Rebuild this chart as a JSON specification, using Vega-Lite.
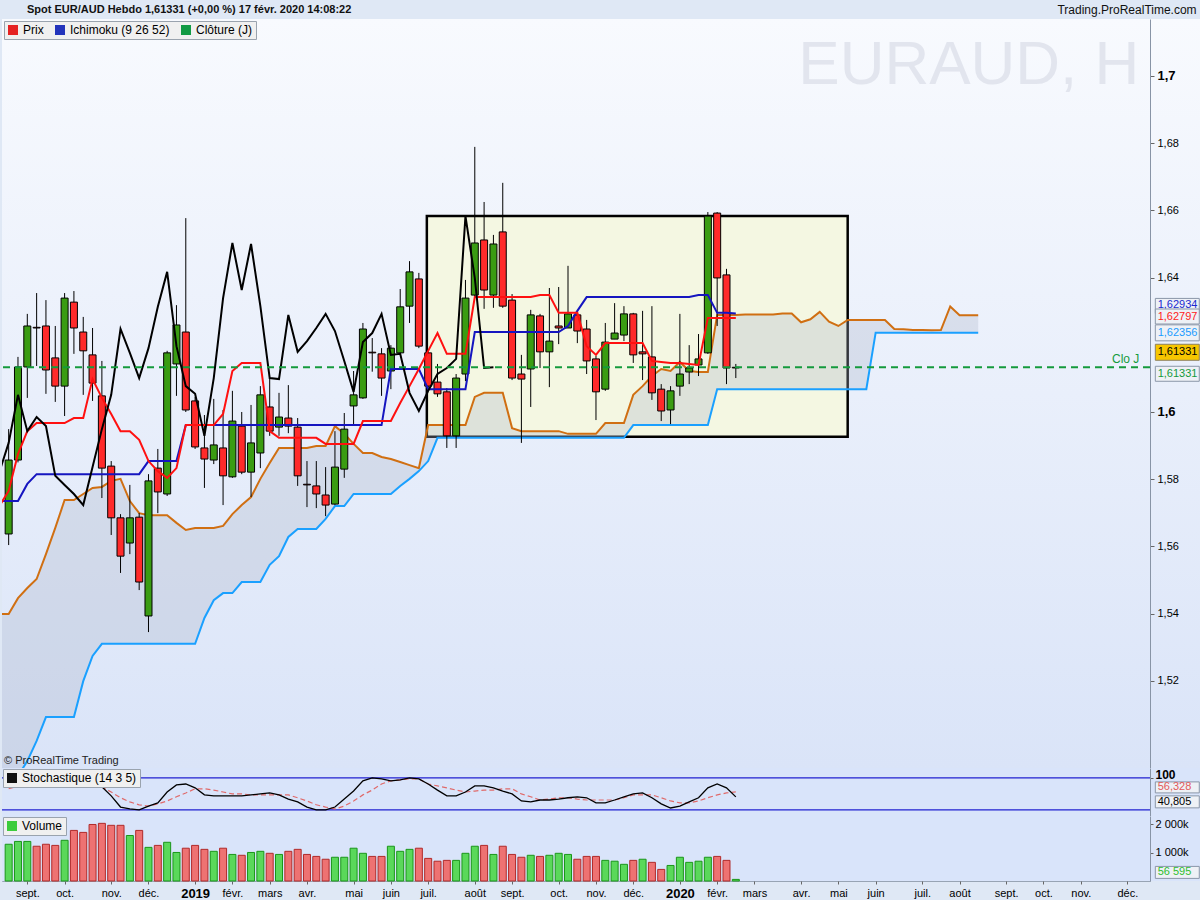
{
"$schema": "https://vega.github.io/schema/vega-lite/v6.json",
"padding": {"left": 0, "right": 0, "top": 3, "bottom": 0},
"background": "#dfe8f5",
"spacing": 0,
"bounds": "flush",
"resolve": {"scale": {"color": "independent"}, "legend": {"color": "independent"}},
"config": {
  "font": "Liberation Sans",
  "view": {"stroke": "#98a4b4", "strokeWidth": 1},
  "scale": {"continuousPadding": 0},
  "axis": {"grid": false, "labelFont": "Liberation Sans", "labelFontSize": 11, "labelColor": "#000000", "tickColor": "#666666", "domainColor": "#8894a6", "tickSize": 4},
  "legend": {"title": null, "orient": "top-left", "direction": "horizontal", "symbolType": "square", "symbolSize": 100, "symbolOpacity": 1, "symbolStrokeWidth": 0, "labelFontSize": 12, "labelFont": "Liberation Sans", "labelColor": "#000000", "fillColor": "#f0f0f0", "strokeColor": "#9aa3ae", "padding": 3, "offset": 2, "columnPadding": 10, "labelOffset": 4}
},
"datasets": {
"candles": [
{"d":"2018-08-20","o":1.5637,"h":1.5949,"l":1.5604,"c":1.5857,"v":1300000,"k":75,"sd":66},
{"d":"2018-08-27","o":1.5857,"h":1.6164,"l":1.5850,"c":1.6134,"v":1400000,"k":91,"sd":75},
{"d":"2018-09-03","o":1.6134,"h":1.6292,"l":1.6042,"c":1.6256,"v":1400000,"k":100,"sd":84},
{"d":"2018-09-10","o":1.6252,"h":1.6354,"l":1.6137,"c":1.6250,"v":1230000,"k":100,"sd":94},
{"d":"2018-09-17","o":1.6256,"h":1.6333,"l":1.6054,"c":1.6125,"v":1300000,"k":100,"sd":98},
{"d":"2018-09-24","o":1.6161,"h":1.6256,"l":1.6030,"c":1.6077,"v":1260000,"k":94,"sd":98},
{"d":"2018-10-01","o":1.6077,"h":1.6354,"l":1.5988,"c":1.6339,"v":1440000,"k":100,"sd":98},
{"d":"2018-10-08","o":1.6327,"h":1.6360,"l":1.6173,"c":1.6250,"v":1790000,"k":100,"sd":98},
{"d":"2018-10-15","o":1.6238,"h":1.6283,"l":1.6051,"c":1.6182,"v":1720000,"k":97,"sd":98},
{"d":"2018-10-22","o":1.6170,"h":1.6250,"l":1.6033,"c":1.6086,"v":2000000,"k":91,"sd":91},
{"d":"2018-10-29","o":1.6048,"h":1.6152,"l":1.5744,"c":1.5833,"v":2040000,"k":72,"sd":72},
{"d":"2018-11-05","o":1.5839,"h":1.5854,"l":1.5634,"c":1.5685,"v":1970000,"k":44,"sd":56},
{"d":"2018-11-12","o":1.5685,"h":1.5696,"l":1.5521,"c":1.5571,"v":1970000,"k":9,"sd":38},
{"d":"2018-11-19","o":1.5610,"h":1.5783,"l":1.5577,"c":1.5685,"v":1610000,"k":3,"sd":25},
{"d":"2018-11-26","o":1.5687,"h":1.5699,"l":1.5470,"c":1.5494,"v":1790000,"k":0,"sd":16},
{"d":"2018-12-03","o":1.5393,"h":1.5815,"l":1.5345,"c":1.5795,"v":1190000,"k":12,"sd":12},
{"d":"2018-12-10","o":1.5833,"h":1.5890,"l":1.5699,"c":1.5762,"v":1260000,"k":22,"sd":19},
{"d":"2018-12-17","o":1.5756,"h":1.6182,"l":1.5750,"c":1.6176,"v":1370000,"k":56,"sd":28},
{"d":"2018-12-24","o":1.6143,"h":1.6318,"l":1.6048,"c":1.6259,"v":1010000,"k":78,"sd":41},
{"d":"2018-12-31","o":1.6238,"h":1.6577,"l":1.6000,"c":1.6006,"v":1160000,"k":81,"sd":53},
{"d":"2019-01-07","o":1.6033,"h":1.6045,"l":1.5890,"c":1.5896,"v":1260000,"k":69,"sd":66},
{"d":"2019-01-14","o":1.5893,"h":1.5991,"l":1.5774,"c":1.5860,"v":1120000,"k":47,"sd":66},
{"d":"2019-01-21","o":1.5857,"h":1.6039,"l":1.5845,"c":1.5902,"v":1050000,"k":44,"sd":62},
{"d":"2019-01-28","o":1.5893,"h":1.6006,"l":1.5723,"c":1.5810,"v":1160000,"k":44,"sd":56},
{"d":"2019-02-04","o":1.5807,"h":1.6063,"l":1.5804,"c":1.5973,"v":940000,"k":44,"sd":50},
{"d":"2019-02-11","o":1.5958,"h":1.6000,"l":1.5815,"c":1.5821,"v":910000,"k":44,"sd":50},
{"d":"2019-02-18","o":1.5821,"h":1.6021,"l":1.5747,"c":1.5908,"v":1010000,"k":47,"sd":47},
{"d":"2019-02-25","o":1.5878,"h":1.6077,"l":1.5833,"c":1.6051,"v":1050000,"k":50,"sd":47},
{"d":"2019-03-04","o":1.6015,"h":1.6101,"l":1.5929,"c":1.5943,"v":980000,"k":53,"sd":47},
{"d":"2019-03-11","o":1.5955,"h":1.6057,"l":1.5929,"c":1.5985,"v":940000,"k":47,"sd":47},
{"d":"2019-03-18","o":1.5982,"h":1.6080,"l":1.5937,"c":1.5958,"v":1050000,"k":34,"sd":47},
{"d":"2019-03-25","o":1.5955,"h":1.5982,"l":1.5780,"c":1.5810,"v":1120000,"k":25,"sd":38},
{"d":"2019-04-01","o":1.5785,"h":1.5854,"l":1.5717,"c":1.5783,"v":940000,"k":9,"sd":28},
{"d":"2019-04-08","o":1.5780,"h":1.5854,"l":1.5714,"c":1.5756,"v":870000,"k":0,"sd":16},
{"d":"2019-04-15","o":1.5753,"h":1.5836,"l":1.5690,"c":1.5723,"v":770000,"k":0,"sd":9},
{"d":"2019-04-22","o":1.5726,"h":1.5943,"l":1.5723,"c":1.5836,"v":840000,"k":9,"sd":3},
{"d":"2019-04-29","o":1.5830,"h":1.5997,"l":1.5804,"c":1.5949,"v":840000,"k":34,"sd":12},
{"d":"2019-05-06","o":1.6018,"h":1.6122,"l":1.5964,"c":1.6051,"v":1160000,"k":59,"sd":28},
{"d":"2019-05-13","o":1.6042,"h":1.6265,"l":1.6039,"c":1.6247,"v":980000,"k":91,"sd":47},
{"d":"2019-05-20","o":1.6178,"h":1.6220,"l":1.6120,"c":1.6176,"v":870000,"k":100,"sd":62},
{"d":"2019-05-27","o":1.6173,"h":1.6190,"l":1.6048,"c":1.6101,"v":870000,"k":97,"sd":81},
{"d":"2019-06-03","o":1.6122,"h":1.6199,"l":1.6068,"c":1.6190,"v":1230000,"k":91,"sd":91},
{"d":"2019-06-10","o":1.6176,"h":1.6366,"l":1.6173,"c":1.6313,"v":1050000,"k":94,"sd":94},
{"d":"2019-06-17","o":1.6315,"h":1.6449,"l":1.6265,"c":1.6417,"v":1120000,"k":100,"sd":97},
{"d":"2019-06-24","o":1.6396,"h":1.6414,"l":1.6190,"c":1.6196,"v":1160000,"k":97,"sd":97},
{"d":"2019-07-01","o":1.6176,"h":1.6182,"l":1.6066,"c":1.6077,"v":800000,"k":81,"sd":81},
{"d":"2019-07-08","o":1.6089,"h":1.6143,"l":1.6045,"c":1.6054,"v":700000,"k":62,"sd":75},
{"d":"2019-07-15","o":1.6060,"h":1.6071,"l":1.5893,"c":1.5929,"v":730000,"k":44,"sd":69},
{"d":"2019-07-22","o":1.5929,"h":1.6113,"l":1.5893,"c":1.6101,"v":730000,"k":44,"sd":62},
{"d":"2019-07-29","o":1.6113,"h":1.6393,"l":1.6092,"c":1.6339,"v":980000,"k":56,"sd":56},
{"d":"2019-08-05","o":1.6348,"h":1.6789,"l":1.6345,"c":1.6503,"v":1230000,"k":75,"sd":59},
{"d":"2019-08-12","o":1.6512,"h":1.6625,"l":1.6307,"c":1.6363,"v":1260000,"k":75,"sd":62},
{"d":"2019-08-19","o":1.6348,"h":1.6527,"l":1.6310,"c":1.6500,"v":940000,"k":69,"sd":62},
{"d":"2019-08-26","o":1.6536,"h":1.6682,"l":1.6310,"c":1.6315,"v":1230000,"k":59,"sd":66},
{"d":"2019-09-02","o":1.6333,"h":1.6351,"l":1.6095,"c":1.6101,"v":940000,"k":50,"sd":66},
{"d":"2019-09-09","o":1.6113,"h":1.6170,"l":1.5908,"c":1.6098,"v":840000,"k":28,"sd":50},
{"d":"2019-09-16","o":1.6128,"h":1.6304,"l":1.6015,"c":1.6289,"v":910000,"k":25,"sd":41},
{"d":"2019-09-23","o":1.6286,"h":1.6292,"l":1.6131,"c":1.6179,"v":870000,"k":31,"sd":31},
{"d":"2019-09-30","o":1.6179,"h":1.6369,"l":1.6074,"c":1.6211,"v":910000,"k":31,"sd":34},
{"d":"2019-10-07","o":1.6256,"h":1.6372,"l":1.6202,"c":1.6250,"v":980000,"k":34,"sd":38},
{"d":"2019-10-14","o":1.6250,"h":1.6435,"l":1.6250,"c":1.6292,"v":940000,"k":38,"sd":38},
{"d":"2019-10-21","o":1.6289,"h":1.6295,"l":1.6205,"c":1.6241,"v":770000,"k":41,"sd":34},
{"d":"2019-10-28","o":1.6247,"h":1.6274,"l":1.6113,"c":1.6152,"v":870000,"k":38,"sd":31},
{"d":"2019-11-04","o":1.6158,"h":1.6167,"l":1.5976,"c":1.6060,"v":870000,"k":22,"sd":31},
{"d":"2019-11-11","o":1.6068,"h":1.6265,"l":1.6063,"c":1.6208,"v":730000,"k":22,"sd":31},
{"d":"2019-11-18","o":1.6217,"h":1.6324,"l":1.6217,"c":1.6235,"v":700000,"k":31,"sd":31},
{"d":"2019-11-25","o":1.6229,"h":1.6315,"l":1.6211,"c":1.6292,"v":590000,"k":41,"sd":38},
{"d":"2019-12-02","o":1.6292,"h":1.6295,"l":1.6146,"c":1.6170,"v":730000,"k":50,"sd":47},
{"d":"2019-12-09","o":1.6179,"h":1.6301,"l":1.6095,"c":1.6173,"v":770000,"k":53,"sd":47},
{"d":"2019-12-16","o":1.6164,"h":1.6315,"l":1.6036,"c":1.6057,"v":660000,"k":38,"sd":47},
{"d":"2019-12-23","o":1.6068,"h":1.6083,"l":1.5973,"c":1.6003,"v":410000,"k":19,"sd":38},
{"d":"2019-12-30","o":1.6006,"h":1.6077,"l":1.5964,"c":1.6063,"v":550000,"k":6,"sd":28},
{"d":"2020-01-06","o":1.6077,"h":1.6292,"l":1.6048,"c":1.6113,"v":840000,"k":12,"sd":22},
{"d":"2020-01-13","o":1.6119,"h":1.6199,"l":1.6083,"c":1.6131,"v":660000,"k":25,"sd":22},
{"d":"2020-01-20","o":1.6140,"h":1.6232,"l":1.6107,"c":1.6158,"v":700000,"k":38,"sd":28},
{"d":"2020-01-27","o":1.6176,"h":1.6595,"l":1.6173,"c":1.6583,"v":840000,"k":69,"sd":38},
{"d":"2020-02-03","o":1.6592,"h":1.6595,"l":1.6256,"c":1.6399,"v":870000,"k":81,"sd":47},
{"d":"2020-02-10","o":1.6408,"h":1.6426,"l":1.6083,"c":1.6131,"v":730000,"k":69,"sd":53},
{"d":"2020-02-17","o":1.6131,"h":1.6143,"l":1.6101,"c":1.61331,"v":56595,"k":40.805,"sd":56.328}
],
"ichi": [
{"d":"2018-08-13","t":1.5720,"kj":1.5735,"a":1.5399,"b":1.4842,"ch":1.5821},
{"d":"2018-08-20","t":1.5765,"kj":1.5735,"a":1.5399,"b":1.4872,"ch":1.5908},
{"d":"2018-08-27","t":1.5875,"kj":1.5735,"a":1.5446,"b":1.4917,"ch":1.6051},
{"d":"2018-09-03","t":1.5943,"kj":1.5786,"a":1.5476,"b":1.4961,"ch":1.5943},
{"d":"2018-09-10","t":1.5967,"kj":1.5815,"a":1.5503,"b":1.5021,"ch":1.5985},
{"d":"2018-09-17","t":1.5967,"kj":1.5815,"a":1.5577,"b":1.5092,"ch":1.5958},
{"d":"2018-09-24","t":1.5967,"kj":1.5815,"a":1.5655,"b":1.5092,"ch":1.5810},
{"d":"2018-10-01","t":1.5967,"kj":1.5815,"a":1.5738,"b":1.5092,"ch":1.5783},
{"d":"2018-10-08","t":1.5982,"kj":1.5815,"a":1.5738,"b":1.5092,"ch":1.5756},
{"d":"2018-10-15","t":1.5982,"kj":1.5815,"a":1.5756,"b":1.5199,"ch":1.5723},
{"d":"2018-10-22","t":1.6098,"kj":1.5815,"a":1.5774,"b":1.5274,"ch":1.5836},
{"d":"2018-10-29","t":1.6042,"kj":1.5815,"a":1.5777,"b":1.5310,"ch":1.5949},
{"d":"2018-11-05","t":1.5994,"kj":1.5815,"a":1.5795,"b":1.5310,"ch":1.6051},
{"d":"2018-11-12","t":1.5943,"kj":1.5815,"a":1.5801,"b":1.5310,"ch":1.6247},
{"d":"2018-11-19","t":1.5943,"kj":1.5815,"a":1.5735,"b":1.5310,"ch":1.6176},
{"d":"2018-11-26","t":1.5917,"kj":1.5815,"a":1.5699,"b":1.5310,"ch":1.6101},
{"d":"2018-12-03","t":1.5854,"kj":1.5854,"a":1.5693,"b":1.5310,"ch":1.6190},
{"d":"2018-12-10","t":1.5824,"kj":1.5854,"a":1.5693,"b":1.5310,"ch":1.6313},
{"d":"2018-12-17","t":1.5804,"kj":1.5854,"a":1.5693,"b":1.5310,"ch":1.6417},
{"d":"2018-12-24","t":1.5833,"kj":1.5854,"a":1.5670,"b":1.5310,"ch":1.6196},
{"d":"2018-12-31","t":1.5961,"kj":1.5961,"a":1.5649,"b":1.5310,"ch":1.6077},
{"d":"2019-01-07","t":1.5961,"kj":1.5961,"a":1.5655,"b":1.5310,"ch":1.6054},
{"d":"2019-01-14","t":1.5961,"kj":1.5961,"a":1.5655,"b":1.5387,"ch":1.5929},
{"d":"2019-01-21","t":1.5961,"kj":1.5961,"a":1.5655,"b":1.5440,"ch":1.6101},
{"d":"2019-01-28","t":1.5994,"kj":1.5961,"a":1.5661,"b":1.5461,"ch":1.6339},
{"d":"2019-02-04","t":1.6122,"kj":1.5961,"a":1.5696,"b":1.5461,"ch":1.6503},
{"d":"2019-02-11","t":1.6146,"kj":1.5961,"a":1.5723,"b":1.5494,"ch":1.6363},
{"d":"2019-02-18","t":1.6146,"kj":1.5961,"a":1.5747,"b":1.5494,"ch":1.6500},
{"d":"2019-02-25","t":1.6146,"kj":1.5961,"a":1.5801,"b":1.5494,"ch":1.6315},
{"d":"2019-03-04","t":1.5943,"kj":1.5961,"a":1.5848,"b":1.5545,"ch":1.6101},
{"d":"2019-03-11","t":1.5923,"kj":1.5961,"a":1.5893,"b":1.5571,"ch":1.6098},
{"d":"2019-03-18","t":1.5923,"kj":1.5961,"a":1.5893,"b":1.5628,"ch":1.6289},
{"d":"2019-03-25","t":1.5923,"kj":1.5961,"a":1.5893,"b":1.5652,"ch":1.6179},
{"d":"2019-04-01","t":1.5923,"kj":1.5961,"a":1.5893,"b":1.5652,"ch":1.6211},
{"d":"2019-04-08","t":1.5923,"kj":1.5961,"a":1.5899,"b":1.5652,"ch":1.6250},
{"d":"2019-04-15","t":1.5905,"kj":1.5961,"a":1.5899,"b":1.5682,"ch":1.6292},
{"d":"2019-04-22","t":1.5905,"kj":1.5961,"a":1.5958,"b":1.5720,"ch":1.6241},
{"d":"2019-04-29","t":1.5905,"kj":1.5961,"a":1.5935,"b":1.5720,"ch":1.6152},
{"d":"2019-05-06","t":1.5905,"kj":1.5961,"a":1.5905,"b":1.5756,"ch":1.6060},
{"d":"2019-05-13","t":1.5973,"kj":1.5961,"a":1.5878,"b":1.5756,"ch":1.6208},
{"d":"2019-05-20","t":1.5973,"kj":1.5961,"a":1.5878,"b":1.5756,"ch":1.6235},
{"d":"2019-05-27","t":1.5973,"kj":1.5961,"a":1.5866,"b":1.5756,"ch":1.6292},
{"d":"2019-06-03","t":1.5973,"kj":1.6128,"a":1.5860,"b":1.5756,"ch":1.6170},
{"d":"2019-06-10","t":1.6027,"kj":1.6128,"a":1.5851,"b":1.5780,"ch":1.6173},
{"d":"2019-06-17","t":1.6077,"kj":1.6128,"a":1.5842,"b":1.5801,"ch":1.6057},
{"d":"2019-06-24","t":1.6128,"kj":1.6128,"a":1.5833,"b":1.5824,"ch":1.6003},
{"d":"2019-07-01","t":1.6182,"kj":1.6068,"a":1.5961,"b":1.5854,"ch":1.6063},
{"d":"2019-07-08","t":1.6235,"kj":1.6068,"a":1.5961,"b":1.5923,"ch":1.6113},
{"d":"2019-07-15","t":1.6173,"kj":1.6068,"a":1.5961,"b":1.5923,"ch":1.6131},
{"d":"2019-07-22","t":1.6173,"kj":1.6068,"a":1.5961,"b":1.5923,"ch":1.6158},
{"d":"2019-07-29","t":1.6173,"kj":1.6068,"a":1.5961,"b":1.5923,"ch":1.6583},
{"d":"2019-08-05","t":1.6342,"kj":1.6238,"a":1.6045,"b":1.5923,"ch":1.6399},
{"d":"2019-08-12","t":1.6342,"kj":1.6238,"a":1.6057,"b":1.5923,"ch":1.6131},
{"d":"2019-08-19","t":1.6342,"kj":1.6238,"a":1.6057,"b":1.5923,"ch":1.61331},
{"d":"2019-08-26","t":1.6342,"kj":1.6238,"a":1.6057,"b":1.5923},
{"d":"2019-09-02","t":1.6342,"kj":1.6238,"a":1.5952,"b":1.5923},
{"d":"2019-09-09","t":1.6342,"kj":1.6238,"a":1.5943,"b":1.5923},
{"d":"2019-09-16","t":1.6342,"kj":1.6238,"a":1.5943,"b":1.5923},
{"d":"2019-09-23","t":1.6348,"kj":1.6238,"a":1.5943,"b":1.5923},
{"d":"2019-09-30","t":1.6348,"kj":1.6238,"a":1.5943,"b":1.5923},
{"d":"2019-10-07","t":1.6295,"kj":1.6238,"a":1.5943,"b":1.5923},
{"d":"2019-10-14","t":1.6295,"kj":1.6256,"a":1.5935,"b":1.5923},
{"d":"2019-10-21","t":1.6295,"kj":1.6301,"a":1.5935,"b":1.5923},
{"d":"2019-10-28","t":1.6196,"kj":1.6342,"a":1.5935,"b":1.5923},
{"d":"2019-11-04","t":1.6170,"kj":1.6342,"a":1.5935,"b":1.5923},
{"d":"2019-11-11","t":1.6205,"kj":1.6342,"a":1.5967,"b":1.5923},
{"d":"2019-11-18","t":1.6205,"kj":1.6342,"a":1.5967,"b":1.5923},
{"d":"2019-11-25","t":1.6205,"kj":1.6342,"a":1.5967,"b":1.5923},
{"d":"2019-12-02","t":1.6205,"kj":1.6342,"a":1.6051,"b":1.5961},
{"d":"2019-12-09","t":1.6205,"kj":1.6342,"a":1.6077,"b":1.5961},
{"d":"2019-12-16","t":1.6152,"kj":1.6342,"a":1.6107,"b":1.5961},
{"d":"2019-12-23","t":1.6149,"kj":1.6342,"a":1.6128,"b":1.5961},
{"d":"2019-12-30","t":1.6146,"kj":1.6342,"a":1.6122,"b":1.5961},
{"d":"2020-01-06","t":1.6146,"kj":1.6342,"a":1.6149,"b":1.5961},
{"d":"2020-01-13","t":1.6143,"kj":1.6342,"a":1.6122,"b":1.5961},
{"d":"2020-01-20","t":1.6140,"kj":1.6348,"a":1.6119,"b":1.5961},
{"d":"2020-01-27","t":1.6280,"kj":1.6348,"a":1.6119,"b":1.5961},
{"d":"2020-02-03","t":1.6280,"kj":1.6295,"a":1.6289,"b":1.6068},
{"d":"2020-02-10","t":1.6280,"kj":1.6295,"a":1.6289,"b":1.6068},
{"d":"2020-02-17","t":1.62797,"kj":1.62934,"a":1.6289,"b":1.6068},
{"d":"2020-02-24","a":1.6290,"b":1.6068},
{"d":"2020-03-02","a":1.6290,"b":1.6068},
{"d":"2020-03-09","a":1.6290,"b":1.6068},
{"d":"2020-03-16","a":1.6290,"b":1.6068},
{"d":"2020-03-23","a":1.6293,"b":1.6068},
{"d":"2020-03-30","a":1.6293,"b":1.6068},
{"d":"2020-04-06","a":1.6267,"b":1.6068},
{"d":"2020-04-13","a":1.6276,"b":1.6068},
{"d":"2020-04-20","a":1.6298,"b":1.6068},
{"d":"2020-04-27","a":1.6269,"b":1.6068},
{"d":"2020-05-04","a":1.6256,"b":1.6068},
{"d":"2020-05-11","a":1.6274,"b":1.6068},
{"d":"2020-05-18","a":1.6274,"b":1.6068},
{"d":"2020-05-25","a":1.6274,"b":1.6068},
{"d":"2020-06-01","a":1.6274,"b":1.6236},
{"d":"2020-06-08","a":1.6274,"b":1.6236},
{"d":"2020-06-15","a":1.6247,"b":1.6236},
{"d":"2020-06-22","a":1.6246,"b":1.6236},
{"d":"2020-06-29","a":1.6244,"b":1.6236},
{"d":"2020-07-06","a":1.6244,"b":1.6236},
{"d":"2020-07-13","a":1.6243,"b":1.6236},
{"d":"2020-07-20","a":1.6244,"b":1.6236},
{"d":"2020-07-27","a":1.6314,"b":1.6236},
{"d":"2020-08-03","a":1.6288,"b":1.6236},
{"d":"2020-08-10","a":1.6288,"b":1.6236},
{"d":"2020-08-17","a":1.6288,"b":1.6236}
]
},
"vconcat": [
{
  "width": 1148, "height": 749,
  "layer": [
    {"data": {"values": [{}]},
     "mark": {"type": "rect", "fill": {"gradient": "linear", "x1": 0, "y1": 0, "x2": 0, "y2": 1, "stops": [{"offset": 0, "color": "#f8fafe"}, {"offset": 1, "color": "#dae4f8"}]}},
     "encoding": {"x": {"datum": {"year": 2018, "month": 8, "date": 15, "utc": true}, "type": "temporal", "scale": {"type": "utc", "padding": 0, "domain": [{"year": 2018, "month": 8, "date": 15, "utc": true}, {"year": 2020, "month": 12, "date": 24, "utc": true}]}, "axis": null},
                  "x2": {"datum": {"year": 2021, "month": 2, "date": 1, "utc": true}}}},
    {"data": {"values": [{}]},
     "mark": {"type": "text", "align": "left", "baseline": "middle", "dx": 25, "dy": -9, "fontSize": 11, "fontWeight": "bold", "color": "#111111"},
     "encoding": {"x": {"datum": {"year": 2018, "month": 8, "date": 15, "utc": true}, "type": "temporal", "scale": {"type": "utc", "padding": 0, "domain": [{"year": 2018, "month": 8, "date": 15, "utc": true}, {"year": 2020, "month": 12, "date": 24, "utc": true}]}, "axis": null},
                  "y": {"datum": 1.71696, "type": "quantitative", "scale": {"domain": [1.49405, 1.71696], "zero": false, "nice": false}, "title": null},
                  "text": {"value": "Spot EUR/AUD Hebdo 1,61331 (+0,00 %) 17 févr. 2020 14:08:22"}}},
    {"data": {"values": [{}]},
     "mark": {"type": "text", "align": "right", "baseline": "middle", "dy": -9, "fontSize": 12, "color": "#111111"},
     "encoding": {"x": {"datum": {"year": 2021, "month": 1, "date": 28, "utc": true}, "type": "temporal", "scale": {"type": "utc", "padding": 0, "domain": [{"year": 2018, "month": 8, "date": 15, "utc": true}, {"year": 2020, "month": 12, "date": 24, "utc": true}]}, "axis": null},
                  "y": {"datum": 1.71696, "type": "quantitative", "scale": {"domain": [1.49405, 1.71696], "zero": false, "nice": false}, "title": null},
                  "text": {"value": "Trading.ProRealTime.com"}}},
    {"data": {"values": [{}]},
     "mark": {"type": "text", "align": "right", "baseline": "alphabetic", "fontSize": 62, "font": "Liberation Sans", "color": "#e2e5ee"},
     "encoding": {"x": {"datum": {"year": 2020, "month": 12, "date": 16, "utc": true}, "type": "temporal", "scale": {"type": "utc", "padding": 0, "domain": [{"year": 2018, "month": 8, "date": 15, "utc": true}, {"year": 2020, "month": 12, "date": 24, "utc": true}]}, "axis": null},
                  "y": {"datum": 1.6976, "type": "quantitative", "scale": {"domain": [1.49405, 1.71696], "zero": false, "nice": false}, "title": null},
                  "text": {"value": "EURAUD, H"}}},
    {"data": {"values": [{}]},
     "mark": {"type": "rect", "fill": "#f4f7e2", "stroke": "#000000", "strokeWidth": 2.5},
     "encoding": {"x": {"datum": {"year": 2019, "month": 6, "date": 30, "utc": true}, "type": "temporal", "scale": {"type": "utc", "padding": 0, "domain": [{"year": 2018, "month": 8, "date": 15, "utc": true}, {"year": 2020, "month": 12, "date": 24, "utc": true}]}, "axis": null},
                  "x2": {"datum": {"year": 2020, "month": 5, "date": 11, "utc": true}},
                  "y": {"datum": 1.6583, "type": "quantitative", "scale": {"domain": [1.49405, 1.71696], "zero": false, "nice": false}, "title": null},
                  "y2": {"datum": 1.5926}}},
    {"data": {"name": "ichi"},
     "mark": {"type": "area", "color": "#a9b3c8", "opacity": 0.3, "clip": true},
     "encoding": {"x": {"field": "d", "type": "temporal", "scale": {"type": "utc", "padding": 0, "domain": [{"year": 2018, "month": 8, "date": 15, "utc": true}, {"year": 2020, "month": 12, "date": 24, "utc": true}]}, "axis": null},
                  "y": {"field": "a", "type": "quantitative", "scale": {"domain": [1.49405, 1.71696], "zero": false, "nice": false}, "title": null},
                  "y2": {"field": "b"}}},
    {"data": {"name": "ichi"},
     "mark": {"type": "line", "color": "#d06f12", "strokeWidth": 2, "clip": true},
     "encoding": {"x": {"field": "d", "type": "temporal", "scale": {"type": "utc", "padding": 0, "domain": [{"year": 2018, "month": 8, "date": 15, "utc": true}, {"year": 2020, "month": 12, "date": 24, "utc": true}]}, "axis": null},
                  "y": {"field": "a", "type": "quantitative", "scale": {"domain": [1.49405, 1.71696], "zero": false, "nice": false}, "title": null}}},
    {"data": {"name": "ichi"},
     "mark": {"type": "line", "color": "#1aa0ff", "strokeWidth": 2, "clip": true},
     "encoding": {"x": {"field": "d", "type": "temporal", "scale": {"type": "utc", "padding": 0, "domain": [{"year": 2018, "month": 8, "date": 15, "utc": true}, {"year": 2020, "month": 12, "date": 24, "utc": true}]}, "axis": null},
                  "y": {"field": "b", "type": "quantitative", "scale": {"domain": [1.49405, 1.71696], "zero": false, "nice": false}, "title": null}}},
    {"data": {"name": "candles"},
     "mark": {"type": "rule", "color": "#000000", "strokeWidth": 1},
     "encoding": {"x": {"field": "d", "type": "temporal", "scale": {"type": "utc", "padding": 0, "domain": [{"year": 2018, "month": 8, "date": 15, "utc": true}, {"year": 2020, "month": 12, "date": 24, "utc": true}]}, "axis": null},
                  "y": {"field": "l", "type": "quantitative", "scale": {"domain": [1.49405, 1.71696], "zero": false, "nice": false}, "title": null,
                        "axis": {"orient": "right", "values": [1.52, 1.54, 1.56, 1.58, 1.6, 1.64, 1.66, 1.68, 1.7], "labelExpr": "replace(format(datum.value,'.2~f'),'.',',')", "labelFontWeight": {"condition": {"test": "abs(datum.value-1.6)<0.001 || abs(datum.value-1.7)<0.001", "value": "bold"}, "value": "normal"}, "labelFontSize": {"condition": {"test": "abs(datum.value-1.6)<0.001 || abs(datum.value-1.7)<0.001", "value": 13}, "value": 11}, "tickSize": 4, "title": null, "zindex": 1, "labelPadding": 3}},
                  "y2": {"field": "h"}}},
    {"data": {"name": "candles"},
     "mark": {"type": "bar", "width": 7, "stroke": "#000000", "strokeWidth": 1},
     "encoding": {"x": {"field": "d", "type": "temporal", "scale": {"type": "utc", "padding": 0, "domain": [{"year": 2018, "month": 8, "date": 15, "utc": true}, {"year": 2020, "month": 12, "date": 24, "utc": true}]}, "axis": null},
                  "y": {"field": "o", "type": "quantitative", "scale": {"domain": [1.49405, 1.71696], "zero": false, "nice": false}, "title": null},
                  "y2": {"field": "c"},
                  "fill": {"condition": {"test": "datum.c >= datum.o", "value": "#3a9c12"}, "value": "#ff2a2a"}}},
    {"data": {"name": "ichi"},
     "mark": {"type": "line", "color": "#1515c0", "strokeWidth": 2, "clip": true},
     "encoding": {"x": {"field": "d", "type": "temporal", "scale": {"type": "utc", "padding": 0, "domain": [{"year": 2018, "month": 8, "date": 15, "utc": true}, {"year": 2020, "month": 12, "date": 24, "utc": true}]}, "axis": null},
                  "y": {"field": "kj", "type": "quantitative", "scale": {"domain": [1.49405, 1.71696], "zero": false, "nice": false}, "title": null}}},
    {"data": {"name": "ichi"},
     "mark": {"type": "line", "color": "#ff1010", "strokeWidth": 2, "clip": true},
     "encoding": {"x": {"field": "d", "type": "temporal", "scale": {"type": "utc", "padding": 0, "domain": [{"year": 2018, "month": 8, "date": 15, "utc": true}, {"year": 2020, "month": 12, "date": 24, "utc": true}]}, "axis": null},
                  "y": {"field": "t", "type": "quantitative", "scale": {"domain": [1.49405, 1.71696], "zero": false, "nice": false}, "title": null}}},
    {"data": {"name": "ichi"},
     "mark": {"type": "line", "color": "#000000", "strokeWidth": 2, "clip": true},
     "encoding": {"x": {"field": "d", "type": "temporal", "scale": {"type": "utc", "padding": 0, "domain": [{"year": 2018, "month": 8, "date": 15, "utc": true}, {"year": 2020, "month": 12, "date": 24, "utc": true}]}, "axis": null},
                  "y": {"field": "ch", "type": "quantitative", "scale": {"domain": [1.49405, 1.71696], "zero": false, "nice": false}, "title": null}}},
    {"data": {"values": [{}]},
     "mark": {"type": "rule", "color": "#149a3c", "strokeWidth": 2, "strokeDash": [7, 5]},
     "encoding": {"y": {"datum": 1.61331, "type": "quantitative", "scale": {"domain": [1.49405, 1.71696], "zero": false, "nice": false}, "title": null}}},
    {"data": {"values": [{}]},
     "mark": {"type": "text", "align": "right", "baseline": "middle", "dy": -8, "fontSize": 12, "color": "#149a3c"},
     "encoding": {"x": {"datum": {"year": 2020, "month": 12, "date": 16, "utc": true}, "type": "temporal", "scale": {"type": "utc", "padding": 0, "domain": [{"year": 2018, "month": 8, "date": 15, "utc": true}, {"year": 2020, "month": 12, "date": 24, "utc": true}]}, "axis": null},
                  "y": {"datum": 1.61331, "type": "quantitative", "scale": {"domain": [1.49405, 1.71696], "zero": false, "nice": false}, "title": null},
                  "text": {"value": "Clo J"}}},
    {"data": {"values": [{}]},
     "mark": {"type": "text", "align": "left", "baseline": "middle", "dx": 2, "dy": -7, "fontSize": 11, "color": "#222222"},
     "encoding": {"x": {"datum": {"year": 2018, "month": 8, "date": 15, "utc": true}, "type": "temporal", "scale": {"type": "utc", "padding": 0, "domain": [{"year": 2018, "month": 8, "date": 15, "utc": true}, {"year": 2020, "month": 12, "date": 24, "utc": true}]}, "axis": null},
                  "y": {"datum": 1.49405, "type": "quantitative", "scale": {"domain": [1.49405, 1.71696], "zero": false, "nice": false}, "title": null},
                  "text": {"value": "© ProRealTime Trading"}}},
    {"data": {"values": [{"val": 1.62934, "lab": "1,62934"}]},
     "layer": [
       {"mark": {"type": "rect", "fill": "#eef1f6", "stroke": "#8a96a8", "strokeWidth": 1, "yOffset": -15, "y2Offset": 0},
        "encoding": {"x": {"datum": {"year": 2020, "month": 12, "date": 28, "utc": true}, "type": "temporal", "scale": {"type": "utc", "padding": 0, "domain": [{"year": 2018, "month": 8, "date": 15, "utc": true}, {"year": 2020, "month": 12, "date": 24, "utc": true}]}, "axis": null},
                     "x2": {"datum": {"year": 2021, "month": 1, "date": 30, "utc": true}},
                     "y": {"field": "val", "type": "quantitative", "scale": {"domain": [1.49405, 1.71696], "zero": false, "nice": false}, "title": null},
                     "y2": {"field": "val"}}},
       {"mark": {"type": "text", "align": "left", "baseline": "middle", "dx": 1, "dy": -8.5, "fontSize": 11, "color": "#1a2ad0"},
        "encoding": {"x": {"datum": {"year": 2020, "month": 12, "date": 29, "utc": true}, "type": "temporal", "scale": {"type": "utc", "padding": 0, "domain": [{"year": 2018, "month": 8, "date": 15, "utc": true}, {"year": 2020, "month": 12, "date": 24, "utc": true}]}, "axis": null},
                     "y": {"field": "val", "type": "quantitative", "scale": {"domain": [1.49405, 1.71696], "zero": false, "nice": false}, "title": null},
                     "text": {"field": "lab"}}}
     ]},
    {"data": {"values": [{"val": 1.62797, "lab": "1,62797"}]},
     "layer": [
       {"mark": {"type": "rect", "fill": "#eef1f6", "stroke": "#8a96a8", "strokeWidth": 1, "yOffset": -9, "y2Offset": 6},
        "encoding": {"x": {"datum": {"year": 2020, "month": 12, "date": 28, "utc": true}, "type": "temporal", "scale": {"type": "utc", "padding": 0, "domain": [{"year": 2018, "month": 8, "date": 15, "utc": true}, {"year": 2020, "month": 12, "date": 24, "utc": true}]}, "axis": null},
                     "x2": {"datum": {"year": 2021, "month": 1, "date": 30, "utc": true}},
                     "y": {"field": "val", "type": "quantitative", "scale": {"domain": [1.49405, 1.71696], "zero": false, "nice": false}, "title": null},
                     "y2": {"field": "val"}}},
       {"mark": {"type": "text", "align": "left", "baseline": "middle", "dx": 1, "dy": -1, "fontSize": 11, "color": "#ff1a1a"},
        "encoding": {"x": {"datum": {"year": 2020, "month": 12, "date": 29, "utc": true}, "type": "temporal", "scale": {"type": "utc", "padding": 0, "domain": [{"year": 2018, "month": 8, "date": 15, "utc": true}, {"year": 2020, "month": 12, "date": 24, "utc": true}]}, "axis": null},
                     "y": {"field": "val", "type": "quantitative", "scale": {"domain": [1.49405, 1.71696], "zero": false, "nice": false}, "title": null},
                     "text": {"field": "lab"}}}
     ]},
    {"data": {"values": [{"val": 1.62356, "lab": "1,62356"}]},
     "layer": [
       {"mark": {"type": "rect", "fill": "#eef1f6", "stroke": "#8a96a8", "strokeWidth": 1, "yOffset": -8, "y2Offset": 8},
        "encoding": {"x": {"datum": {"year": 2020, "month": 12, "date": 28, "utc": true}, "type": "temporal", "scale": {"type": "utc", "padding": 0, "domain": [{"year": 2018, "month": 8, "date": 15, "utc": true}, {"year": 2020, "month": 12, "date": 24, "utc": true}]}, "axis": null},
                     "x2": {"datum": {"year": 2021, "month": 1, "date": 30, "utc": true}},
                     "y": {"field": "val", "type": "quantitative", "scale": {"domain": [1.49405, 1.71696], "zero": false, "nice": false}, "title": null},
                     "y2": {"field": "val"}}},
       {"mark": {"type": "text", "align": "left", "baseline": "middle", "dx": 1, "dy": 0, "fontSize": 11, "color": "#1a9bff"},
        "encoding": {"x": {"datum": {"year": 2020, "month": 12, "date": 29, "utc": true}, "type": "temporal", "scale": {"type": "utc", "padding": 0, "domain": [{"year": 2018, "month": 8, "date": 15, "utc": true}, {"year": 2020, "month": 12, "date": 24, "utc": true}]}, "axis": null},
                     "y": {"field": "val", "type": "quantitative", "scale": {"domain": [1.49405, 1.71696], "zero": false, "nice": false}, "title": null},
                     "text": {"field": "lab"}}}
     ]},
    {"data": {"values": [{"val": 1.61331, "lab": "1,61331"}]},
     "layer": [
       {"mark": {"type": "rect", "fill": "#f7c600", "stroke": "#8c8060", "strokeWidth": 1, "yOffset": -23, "y2Offset": -7},
        "encoding": {"x": {"datum": {"year": 2020, "month": 12, "date": 28, "utc": true}, "type": "temporal", "scale": {"type": "utc", "padding": 0, "domain": [{"year": 2018, "month": 8, "date": 15, "utc": true}, {"year": 2020, "month": 12, "date": 24, "utc": true}]}, "axis": null},
                     "x2": {"datum": {"year": 2021, "month": 1, "date": 30, "utc": true}},
                     "y": {"field": "val", "type": "quantitative", "scale": {"domain": [1.49405, 1.71696], "zero": false, "nice": false}, "title": null},
                     "y2": {"field": "val"}}},
       {"mark": {"type": "text", "align": "left", "baseline": "middle", "dx": 1, "dy": -15, "fontSize": 11, "color": "#000000"},
        "encoding": {"x": {"datum": {"year": 2020, "month": 12, "date": 29, "utc": true}, "type": "temporal", "scale": {"type": "utc", "padding": 0, "domain": [{"year": 2018, "month": 8, "date": 15, "utc": true}, {"year": 2020, "month": 12, "date": 24, "utc": true}]}, "axis": null},
                     "y": {"field": "val", "type": "quantitative", "scale": {"domain": [1.49405, 1.71696], "zero": false, "nice": false}, "title": null},
                     "text": {"field": "lab"}}}
     ]},
    {"data": {"values": [{"val": 1.61331, "lab": "1,61331"}]},
     "layer": [
       {"mark": {"type": "rect", "fill": "#eef1f6", "stroke": "#8a96a8", "strokeWidth": 1, "yOffset": -1, "y2Offset": 14},
        "encoding": {"x": {"datum": {"year": 2020, "month": 12, "date": 28, "utc": true}, "type": "temporal", "scale": {"type": "utc", "padding": 0, "domain": [{"year": 2018, "month": 8, "date": 15, "utc": true}, {"year": 2020, "month": 12, "date": 24, "utc": true}]}, "axis": null},
                     "x2": {"datum": {"year": 2021, "month": 1, "date": 30, "utc": true}},
                     "y": {"field": "val", "type": "quantitative", "scale": {"domain": [1.49405, 1.71696], "zero": false, "nice": false}, "title": null},
                     "y2": {"field": "val"}}},
       {"mark": {"type": "text", "align": "left", "baseline": "middle", "dx": 1, "dy": 6.5, "fontSize": 11, "color": "#149a3c"},
        "encoding": {"x": {"datum": {"year": 2020, "month": 12, "date": 29, "utc": true}, "type": "temporal", "scale": {"type": "utc", "padding": 0, "domain": [{"year": 2018, "month": 8, "date": 15, "utc": true}, {"year": 2020, "month": 12, "date": 24, "utc": true}]}, "axis": null},
                     "y": {"field": "val", "type": "quantitative", "scale": {"domain": [1.49405, 1.71696], "zero": false, "nice": false}, "title": null},
                     "text": {"field": "lab"}}}
     ]},
    {"data": {"values": [{"n": "Prix"}, {"n": "Ichimoku (9 26 52)"}, {"n": "Clôture (J)"}]},
     "mark": {"type": "square", "opacity": 0, "size": 1},
     "encoding": {"color": {"field": "n", "type": "nominal", "scale": {"domain": ["Prix", "Ichimoku (9 26 52)", "Clôture (J)"], "range": ["#e52222", "#2233bb", "#119a44"]}, "legend": {"orient": "top-left", "direction": "horizontal", "title": null}}}}
  ]
},
{
  "width": 1148, "height": 48,
  "layer": [
    {"data": {"values": [{}]},
     "mark": {"type": "rect", "fill": "#d9e4fa"},
     "encoding": {"x": {"datum": {"year": 2018, "month": 8, "date": 15, "utc": true}, "type": "temporal", "scale": {"type": "utc", "padding": 0, "domain": [{"year": 2018, "month": 8, "date": 15, "utc": true}, {"year": 2020, "month": 12, "date": 24, "utc": true}]}, "axis": null},
                  "x2": {"datum": {"year": 2021, "month": 2, "date": 1, "utc": true}}}},
    {"data": {"values": [{"lv": 0}, {"lv": 100}]},
     "mark": {"type": "rule", "color": "#2020d0", "strokeWidth": 1.2},
     "encoding": {"y": {"field": "lv", "type": "quantitative", "scale": {"domain": [-19, 131], "zero": false, "nice": false}, "title": null,
                        "axis": {"orient": "right", "values": [100], "labelFontWeight": "bold", "labelFontSize": 12, "labelOffset": -3, "tickSize": 3, "title": null, "zindex": 1}}}},
    {"data": {"name": "candles"},
     "mark": {"type": "line", "color": "#e06a6a", "strokeWidth": 1.2, "strokeDash": [5, 3]},
     "encoding": {"x": {"field": "d", "type": "temporal", "scale": {"type": "utc", "padding": 0, "domain": [{"year": 2018, "month": 8, "date": 15, "utc": true}, {"year": 2020, "month": 12, "date": 24, "utc": true}]}, "axis": null},
                  "y": {"field": "sd", "type": "quantitative", "scale": {"domain": [-19, 131], "zero": false, "nice": false}, "title": null}}},
    {"data": {"name": "candles"},
     "mark": {"type": "line", "color": "#000000", "strokeWidth": 1.3},
     "encoding": {"x": {"field": "d", "type": "temporal", "scale": {"type": "utc", "padding": 0, "domain": [{"year": 2018, "month": 8, "date": 15, "utc": true}, {"year": 2020, "month": 12, "date": 24, "utc": true}]}, "axis": null},
                  "y": {"field": "k", "type": "quantitative", "scale": {"domain": [-19, 131], "zero": false, "nice": false}, "title": null}}},
    {"data": {"values": [{"val": 56.328, "lab": "56,328"}]},
     "layer": [
       {"mark": {"type": "rect", "fill": "#eef1f6", "stroke": "#8a96a8", "strokeWidth": 1, "yOffset": -10, "y2Offset": 1},
        "encoding": {"x": {"datum": {"year": 2020, "month": 12, "date": 28, "utc": true}, "type": "temporal", "scale": {"type": "utc", "padding": 0, "domain": [{"year": 2018, "month": 8, "date": 15, "utc": true}, {"year": 2020, "month": 12, "date": 24, "utc": true}]}, "axis": null},
                     "x2": {"datum": {"year": 2021, "month": 1, "date": 30, "utc": true}},
                     "y": {"field": "val", "type": "quantitative", "scale": {"domain": [-19, 131], "zero": false, "nice": false}, "title": null},
                     "y2": {"field": "val"}}},
       {"mark": {"type": "text", "align": "left", "baseline": "middle", "dx": 1, "dy": -4.5, "fontSize": 11, "color": "#e25a5a"},
        "encoding": {"x": {"datum": {"year": 2020, "month": 12, "date": 29, "utc": true}, "type": "temporal", "scale": {"type": "utc", "padding": 0, "domain": [{"year": 2018, "month": 8, "date": 15, "utc": true}, {"year": 2020, "month": 12, "date": 24, "utc": true}]}, "axis": null},
                     "y": {"field": "val", "type": "quantitative", "scale": {"domain": [-19, 131], "zero": false, "nice": false}, "title": null},
                     "text": {"field": "lab"}}}
     ]},
    {"data": {"values": [{"val": 40.805, "lab": "40,805"}]},
     "layer": [
       {"mark": {"type": "rect", "fill": "#eef1f6", "stroke": "#8a96a8", "strokeWidth": 1, "yOffset": -1, "y2Offset": 11},
        "encoding": {"x": {"datum": {"year": 2020, "month": 12, "date": 28, "utc": true}, "type": "temporal", "scale": {"type": "utc", "padding": 0, "domain": [{"year": 2018, "month": 8, "date": 15, "utc": true}, {"year": 2020, "month": 12, "date": 24, "utc": true}]}, "axis": null},
                     "x2": {"datum": {"year": 2021, "month": 1, "date": 30, "utc": true}},
                     "y": {"field": "val", "type": "quantitative", "scale": {"domain": [-19, 131], "zero": false, "nice": false}, "title": null},
                     "y2": {"field": "val"}}},
       {"mark": {"type": "text", "align": "left", "baseline": "middle", "dx": 1, "dy": 5, "fontSize": 11, "color": "#000000"},
        "encoding": {"x": {"datum": {"year": 2020, "month": 12, "date": 29, "utc": true}, "type": "temporal", "scale": {"type": "utc", "padding": 0, "domain": [{"year": 2018, "month": 8, "date": 15, "utc": true}, {"year": 2020, "month": 12, "date": 24, "utc": true}]}, "axis": null},
                     "y": {"field": "val", "type": "quantitative", "scale": {"domain": [-19, 131], "zero": false, "nice": false}, "title": null},
                     "text": {"field": "lab"}}}
     ]},
    {"data": {"values": [{"n": "Stochastique (14 3 5)"}]},
     "mark": {"type": "square", "opacity": 0, "size": 1},
     "encoding": {"color": {"field": "n", "type": "nominal", "scale": {"domain": ["Stochastique (14 3 5)"], "range": ["#111111"]}, "legend": {"orient": "top-left", "title": null, "offset": 1}}}}
  ]
},
{
  "width": 1148, "height": 65,
  "layer": [
    {"data": {"values": [{}]},
     "mark": {"type": "rect", "fill": "#d9e4fa"},
     "encoding": {"x": {"datum": {"year": 2018, "month": 8, "date": 15, "utc": true}, "type": "temporal", "scale": {"type": "utc", "padding": 0, "domain": [{"year": 2018, "month": 8, "date": 15, "utc": true}, {"year": 2020, "month": 12, "date": 24, "utc": true}]}, "title": null},
                  "x2": {"datum": {"year": 2021, "month": 2, "date": 1, "utc": true}}}},
    {"data": {"name": "candles"},
     "transform": [{"window": [{"op": "lag", "field": "c", "as": "pc"}], "sort": [{"field": "d", "order": "ascending"}]}],
     "mark": {"type": "bar", "width": 7, "strokeWidth": 1},
     "encoding": {"x": {"field": "d", "type": "temporal", "title": null, "scale": {"type": "utc", "padding": 0, "domain": [{"year": 2018, "month": 8, "date": 15, "utc": true}, {"year": 2020, "month": 12, "date": 24, "utc": true}]},
                        "axis": {"orient": "bottom", "title": null, "domain": false, "tickSize": 3, "labelPadding": 3, "labelOverlap": false, "labelFlush": false, "zindex": 1,
                                 "values": [{"year":2018,"month":9,"date":3,"utc":true},{"year":2018,"month":10,"date":1,"utc":true},{"year":2018,"month":11,"date":5,"utc":true},{"year":2018,"month":12,"date":3,"utc":true},{"year":2019,"month":1,"date":7,"utc":true},{"year":2019,"month":2,"date":4,"utc":true},{"year":2019,"month":3,"date":4,"utc":true},{"year":2019,"month":4,"date":1,"utc":true},{"year":2019,"month":5,"date":6,"utc":true},{"year":2019,"month":6,"date":3,"utc":true},{"year":2019,"month":7,"date":1,"utc":true},{"year":2019,"month":8,"date":5,"utc":true},{"year":2019,"month":9,"date":2,"utc":true},{"year":2019,"month":10,"date":7,"utc":true},{"year":2019,"month":11,"date":4,"utc":true},{"year":2019,"month":12,"date":2,"utc":true},{"year":2020,"month":1,"date":6,"utc":true},{"year":2020,"month":2,"date":3,"utc":true},{"year":2020,"month":3,"date":2,"utc":true},{"year":2020,"month":4,"date":6,"utc":true},{"year":2020,"month":5,"date":4,"utc":true},{"year":2020,"month":6,"date":1,"utc":true},{"year":2020,"month":7,"date":6,"utc":true},{"year":2020,"month":8,"date":3,"utc":true},{"year":2020,"month":9,"date":7,"utc":true},{"year":2020,"month":10,"date":5,"utc":true},{"year":2020,"month":11,"date":2,"utc":true},{"year":2020,"month":12,"date":7,"utc":true}],
                                 "labelExpr": "utcmonth(datum.value)==0 ? ('' + utcyear(datum.value)) : ['janv.','févr.','mars','avr.','mai','juin','juil.','août','sept.','oct.','nov.','déc.'][utcmonth(datum.value)]",
                                 "labelFontWeight": {"condition": {"test": "utcmonth(datum.value)==0", "value": "bold"}, "value": "normal"},
                                 "labelFontSize": {"condition": {"test": "utcmonth(datum.value)==0", "value": 13}, "value": 11}}},
                  "y": {"field": "v", "type": "quantitative", "scale": {"domain": [0, 2300000], "nice": false}, "title": null,
                        "axis": {"orient": "right", "values": [1000000, 2000000], "labelExpr": "replace(format(datum.value/1000,','),',',' ')+'k'", "tickSize": 3, "title": null, "zindex": 1}},
                  "fill": {"condition": {"test": "datum.pc == null || datum.c >= datum.pc", "value": "#5ad85a"}, "value": "#ee7272"},
                  "stroke": {"condition": {"test": "datum.pc == null || datum.c >= datum.pc", "value": "#1a961a"}, "value": "#b02a2a"}}},
    {"data": {"values": [{"val": 56595, "lab": "56 595"}]},
     "layer": [
       {"mark": {"type": "rect", "fill": "#eef1f6", "stroke": "#8a96a8", "strokeWidth": 1, "yOffset": -13, "y2Offset": -1},
        "encoding": {"x": {"datum": {"year": 2020, "month": 12, "date": 28, "utc": true}, "type": "temporal", "title": null, "scale": {"type": "utc", "padding": 0, "domain": [{"year": 2018, "month": 8, "date": 15, "utc": true}, {"year": 2020, "month": 12, "date": 24, "utc": true}]}},
                     "x2": {"datum": {"year": 2021, "month": 1, "date": 30, "utc": true}},
                     "y": {"field": "val", "type": "quantitative", "scale": {"domain": [0, 2300000], "nice": false}, "title": null},
                     "y2": {"field": "val"}}},
       {"mark": {"type": "text", "align": "left", "baseline": "middle", "dx": 1, "dy": -7, "fontSize": 11, "color": "#2fbf2f"},
        "encoding": {"x": {"datum": {"year": 2020, "month": 12, "date": 29, "utc": true}, "type": "temporal", "title": null, "scale": {"type": "utc", "padding": 0, "domain": [{"year": 2018, "month": 8, "date": 15, "utc": true}, {"year": 2020, "month": 12, "date": 24, "utc": true}]}},
                     "y": {"field": "val", "type": "quantitative", "scale": {"domain": [0, 2300000], "nice": false}, "title": null},
                     "text": {"field": "lab"}}}
     ]},
    {"data": {"values": [{"n": "Volume"}]},
     "mark": {"type": "square", "opacity": 0, "size": 1},
     "encoding": {"color": {"field": "n", "type": "nominal", "scale": {"domain": ["Volume"], "range": ["#3ccc3c"]}, "legend": {"orient": "top-left", "title": null, "offset": 1}}}}
  ]
}
]
}
